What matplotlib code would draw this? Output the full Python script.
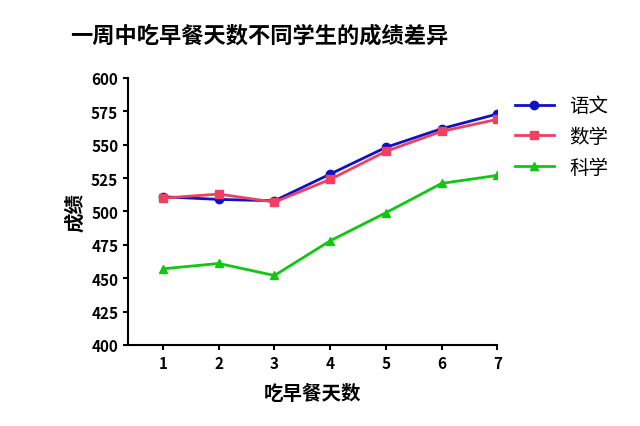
import matplotlib
matplotlib.use("Agg")
import matplotlib.pyplot as plt

plt.rcParams['font.family'] = ['Noto Sans CJK SC', 'DejaVu Sans']

days = [1, 2, 3, 4, 5, 6, 7]
chinese = [511, 509, 508, 528, 548, 562, 573]
math = [510, 513, 507, 524, 545, 560, 569]
science = [457, 461, 452, 478, 499, 521, 527]
yticks = [400, 425, 450, 475, 500, 525, 550, 575, 600]

fig = plt.figure(figsize=(6.4, 4.27), dpi=100)
ax = fig.add_axes([0.2, 0.19, 0.577, 0.625])
ax.plot(days, chinese, color='#1010c8', marker='o', ms=6, lw=2, label='语文')
ax.plot(days, math, color='#f04060', marker='s', ms=6, lw=2, label='数学')
ax.plot(days, science, color='#10c810', marker='^', ms=6, lw=2, label='科学')
ax.set_xlim(0.37, 7)
ax.set_ylim(400, 600)
ax.set_xticks(days)
ax.set_yticks(yticks)
for s in ['top', 'right']:
    ax.spines[s].set_visible(False)
for s in ['left', 'bottom']:
    ax.spines[s].set_linewidth(1.5)
ax.tick_params(width=1.5, labelsize=11)
for t in ax.get_xticklabels() + ax.get_yticklabels():
    t.set_fontweight('bold')
ax.set_xlabel('吃早餐天数', fontsize=14, fontweight='bold', labelpad=10)
ax.set_ylabel('成绩', fontsize=14, fontweight='bold')
fig.text(0.11, 0.9, '一周中吃早餐天数不同学生的成绩差异', fontsize=16, fontweight='bold')
ax.legend(loc='upper left', bbox_to_anchor=(1.0, 1.0), frameon=False, fontsize=14,
          handlelength=2)
fig.savefig('out.png', dpi=100)
